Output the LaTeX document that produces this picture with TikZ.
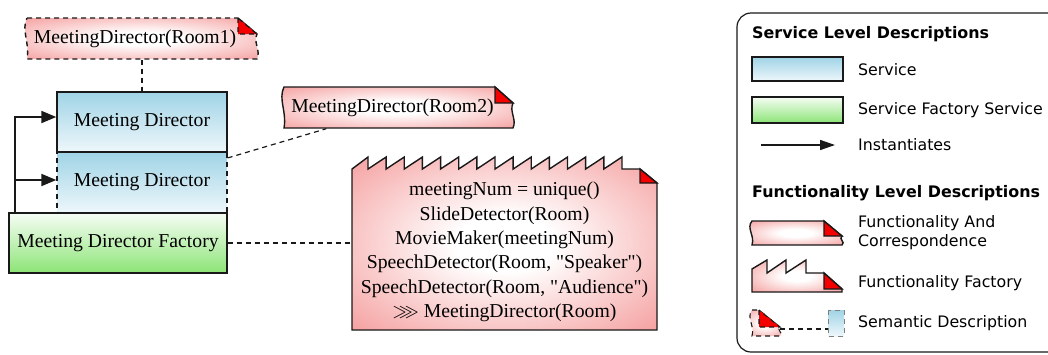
\documentclass[tikz,border=0pt]{standalone}
\usepackage{fontspec}
\usepackage{amssymb}
\setmainfont{Liberation Serif}
\newfontfamily\plainserif{Liberation Serif}
\newfontfamily\legendfont{DejaVu Sans}
\usetikzlibrary{arrows.meta,calc}

\definecolor{tapered}{RGB}{240,110,110}
\definecolor{svctop}{RGB}{160,212,230}
\definecolor{svcbot}{RGB}{238,247,251}
\definecolor{factop}{RGB}{246,253,245}
\definecolor{facbot}{RGB}{140,228,118}
\definecolor{ink}{RGB}{25,25,25}
\definecolor{foldred}{RGB}{245,0,0}

\pgfdeclareradialshading{tapeshade}{\pgfpoint{0bp}{0bp}}{color(0bp)=(white); color(8bp)=(white); color(50bp)=(tapered); color(72bp)=(tapered)}

\newcommand\mainfs{\plainserif\fontsize{19.7pt}{24.4pt}\selectfont}
\newcommand\legfs{\legendfont\fontsize{15.8pt}{19pt}\selectfont}
\newcommand\legbf{\legendfont\bfseries\fontsize{15.9pt}{19pt}\selectfont}

% tape path: x1,y1,x2,y2,fold width,fold height
\newcommand\tapepath[6]{(#1,#2) -- ({#3-#5},#2) -- (#3,{#2+#6}) .. controls ({#3-4},{#2+#6+0.35*(#4-#2-#6)}) and ({#3+4},{#4-0.35*(#4-#2-#6)}) .. (#3,#4) -- (#1,#4) .. controls ({#1+3},{#4-0.4*(#4-#2)}) and ({#1-6},{#2+0.3*(#4-#2)}) .. (#1,#2) -- cycle}
\newcommand\foldpath[4]{({#1-#3},#2) -- ({#1-#3},{#2+#4}) -- (#1,{#2+#4}) -- cycle}

\tikzset{
  shapeline/.style={draw=ink, line width=1.4pt, line join=miter},
  tapefill/.style={shapeline, shading=tapeshade},
  foldfill/.style={shapeline, fill=foldred},
  dsh/.style={dash pattern=on 5pt off 4pt},
  svcbox/.style={shapeline, rectangle, top color=svctop, bottom color=svcbot, minimum width=170pt, minimum height=60pt, inner sep=0pt, font=\mainfs},
  facbox/.style={shapeline, rectangle, top color=factop, bottom color=facbot, minimum width=218pt, minimum height=60pt, inner sep=0pt, font=\mainfs},
  holder/.style={rectangle, inner sep=0pt, font=\mainfs},
  inst/.style={draw=ink, line width=2pt, -{Triangle[length=15pt,width=12pt]}},
  conn/.style={draw=ink, line width=1.2pt, dsh},
  legtext/.style={anchor=west, inner sep=0pt, font=\legfs, align=left},
  leghead/.style={anchor=west, inner sep=0pt, font=\legbf},
}

\begin{document}
\begin{tikzpicture}[x=1pt,y=-1pt]
\useasboundingbox (0,0) rectangle (1048,354);
\clip (0,0) rectangle (1048,354);

% ---------- tape / factory shapes ----------
\shadedraw[tapefill, dsh] \tapepath{27}{18}{257}{59}{19}{16};
\filldraw[foldfill, dsh] \foldpath{257}{18}{19}{16};

\shadedraw[tapefill] \tapepath{284}{87}{513}{128}{18}{16};
\filldraw[foldfill] \foldpath{513}{87}{18}{16};

\shadedraw[tapefill] (352,330) -- (352,169) -- (368,157) -- (368,169)
  \foreach \i in {1,...,14}{ -- ({368+18.14*\i},157) -- ({368+18.14*\i},169)}
  -- (640,169) -- (657,183) -- (657,330) -- cycle;
\filldraw[foldfill] \foldpath{657}{169}{17}{14};

% ---------- nodes ----------
\node[holder, minimum width=230pt, minimum height=41pt] (room1) at (142,39) {\hspace*{-14pt}MeetingDirector(Room1)};
\node[holder, minimum width=229pt, minimum height=41pt] (room2) at (398.5,108) {\hspace*{-12pt}MeetingDirector(Room2)};
\node[holder, minimum width=305pt, minimum height=161pt, align=center] (ff) at (504.5,252)
  {meetingNum = unique()\\ SlideDetector(Room)\\ MovieMaker(meetingNum)\\ SpeechDetector(Room, "Speaker")\\ SpeechDetector(Room, "Audience")\\ $\ggg$ MeetingDirector(Room)};

\node[svcbox, dsh] (md2) at (142,182.5) {Meeting Director};
\node[svcbox] (md1) at (142,122) {Meeting Director};
\node[facbox] (mdf) at (118,243) {Meeting Director Factory};

% ---------- connectors ----------
\draw[conn] (room1.south) -- (md1.north);
\draw[conn] (md2.16) -- (room2.196);
\draw[conn] (mdf.east) -- (mdf.east -| ff.west);
\draw[inst] ($(mdf.north west)+(7,0)$) |- ($(md1.west)+(0,-5)$);
\draw[inst] ($(mdf.north west)+(7,0)$) |- ($(md2.west)+(0,-2.5)$);

% ---------- legend ----------
\draw[draw=ink, line width=1.2pt, rounded corners=14pt] (737,13) rectangle (1080,352);

\node[leghead] (lh1) at (752,34) {Service Level Descriptions};
\shadedraw[shapeline, top color=svctop, bottom color=svcbot] (752,57) rectangle (843,81);
\node[legtext] (l1) at (858,70) {Service};
\shadedraw[shapeline, top color=factop, bottom color=facbot] (752,97) rectangle (843,123);
\node[legtext] (l2) at (858,110) {Service Factory Service};
\coordinate (la1) at (761,145);
\coordinate (la2) at (835,145);
\draw[draw=ink, line width=1.5pt, -{Triangle[length=15pt,width=10pt]}] (la1) -- (la2);
\node[legtext] (l3) at (858,145) {Instantiates};

\node[leghead] (lh2) at (752,193) {Functionality Level Descriptions};
\shadedraw[tapefill] \tapepath{752}{221}{842}{245}{18}{15};
\filldraw[foldfill] \foldpath{842}{221}{18}{15};
\node[legtext] (l4) at (858,233) {Functionality And\\Correspondence};

\shadedraw[tapefill] (752,292) -- (752,269) -- (767,260) -- (767,273) -- (786,260) -- (786,273) -- (806,260) -- (806,273) -- (824,273) -- (842,289) -- (842,292) -- cycle;
\filldraw[foldfill] \foldpath{842}{273}{18}{16};
\node[legtext] (l5) at (858,283) {Functionality Factory};

\shadedraw[tapefill, dsh, line width=1.1pt] \tapepath{752}{310}{780}{336}{21}{17};
\filldraw[foldfill, dsh, line width=1.1pt] \foldpath{780}{310}{21}{17};
\shadedraw[draw=gray, line width=1pt, dsh, top color=svctop, bottom color=svcbot] (828,310) rectangle (844,336);
\coordinate (ls1) at (780,329);
\coordinate (ls2) at (828,329);
\draw[conn] (ls1) -- (ls2);
\node[legtext] (l6) at (858,323) {Semantic Description};
\end{tikzpicture}
\end{document}
